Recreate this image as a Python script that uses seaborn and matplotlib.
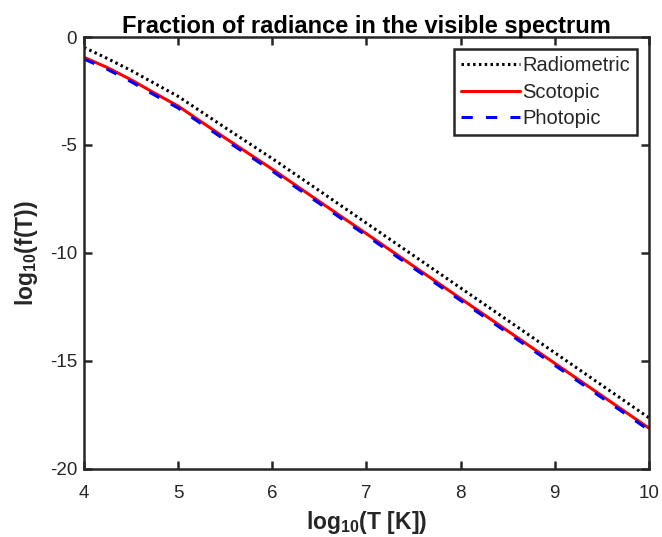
import numpy
import pandas
import seaborn
from matplotlib import pyplot

# values
LOG_T = [4.0, 4.25, 4.5, 4.75, 5.0, 5.5, 6.0, 6.5, 7.0, 8.0, 9.0, 10.0]
RADIOMETRIC = [-0.48, -1.00, -1.55, -2.15, -2.75, -4.20, -5.63, -7.12,
               -8.62, -11.62, -14.62, -17.63]
SCOTOPIC = [-0.94, -1.42, -1.98, -2.60, -3.20, -4.68, -6.12, -7.62,
            -9.11, -12.11, -15.11, -18.11]
PHOTOPIC = [-1.02, -1.50, -2.07, -2.69, -3.29, -4.77, -6.21, -7.71,
            -9.20, -12.20, -15.20, -18.20]

X_TICKS = [4, 5, 6, 7, 8, 9, 10]
Y_TICKS = [-20, -15, -10, -5, 0]

seaborn.set_theme(style='ticks')
pyplot.rcParams['font.family'] = ['Liberation Sans', 'DejaVu Sans']
pyplot.rcParams['mathtext.fontset'] = 'custom'
pyplot.rcParams['mathtext.rm'] = 'Liberation Sans'
pyplot.rcParams['mathtext.bf'] = 'Liberation Sans:bold'
pyplot.rcParams['axes.unicode_minus'] = False

data = pandas.DataFrame({
    'logT': LOG_T,
    'Radiometric': RADIOMETRIC,
    'Scotopic': SCOTOPIC,
    'Photopic': PHOTOPIC,
})

figure = pyplot.figure(figsize=(6.62, 5.37), dpi=100)
axes = figure.add_axes([0.127, 0.127, 0.853, 0.804])

# curves
seaborn.lineplot(data=data, x='logT', y='Radiometric', ax=axes,
                 color='black', linewidth=2.2, linestyle=(0, (0.8, 1.1)),
                 label='Radiometric')
seaborn.lineplot(data=data, x='logT', y='Scotopic', ax=axes,
                 color='#ff0000', linewidth=2.2, label='Scotopic')
seaborn.lineplot(data=data, x='logT', y='Photopic', ax=axes,
                 color='#0000ff', linewidth=2.2, linestyle=(0, (3.7, 4.3)),
                 label='Photopic')

# axes decorations
axes.set_xlim(4, 10)
axes.set_ylim(-20, 0)
axes.set_xticks(X_TICKS)
axes.set_yticks(Y_TICKS)
axes.tick_params(direction='in', length=6, width=1.8, colors='#262626',
                 labelsize=13.5, top=True, right=True)
axes.tick_params(axis='x', pad=12)
axes.tick_params(axis='y', pad=5)
for spine in axes.spines.values():
    spine.set_linewidth(1.8)
    spine.set_color('#262626')
    spine.set_visible(True)

axes.set_title('Fraction of radiance in the visible spectrum',
               fontsize=17, fontweight='bold', pad=3, color='black')
axes.set_xlabel(r'log$_{\mathbf{10}}$(T [K])', fontsize=16.5,
                fontweight='bold', labelpad=5)
axes.set_ylabel(r'log$_{\mathbf{10}}$(f(T))', fontsize=16.5,
                fontweight='bold', labelpad=7)

legend = axes.legend(loc='upper right', fontsize=14.5, frameon=True,
                     fancybox=False, framealpha=1, edgecolor='#262626',
                     borderpad=0.35, labelspacing=0.37, handlelength=2.9,
                     handletextpad=0.1, borderaxespad=0.6)
legend.get_frame().set_linewidth(1.8)

figure.savefig('out.png', dpi=100)
pyplot.close()
